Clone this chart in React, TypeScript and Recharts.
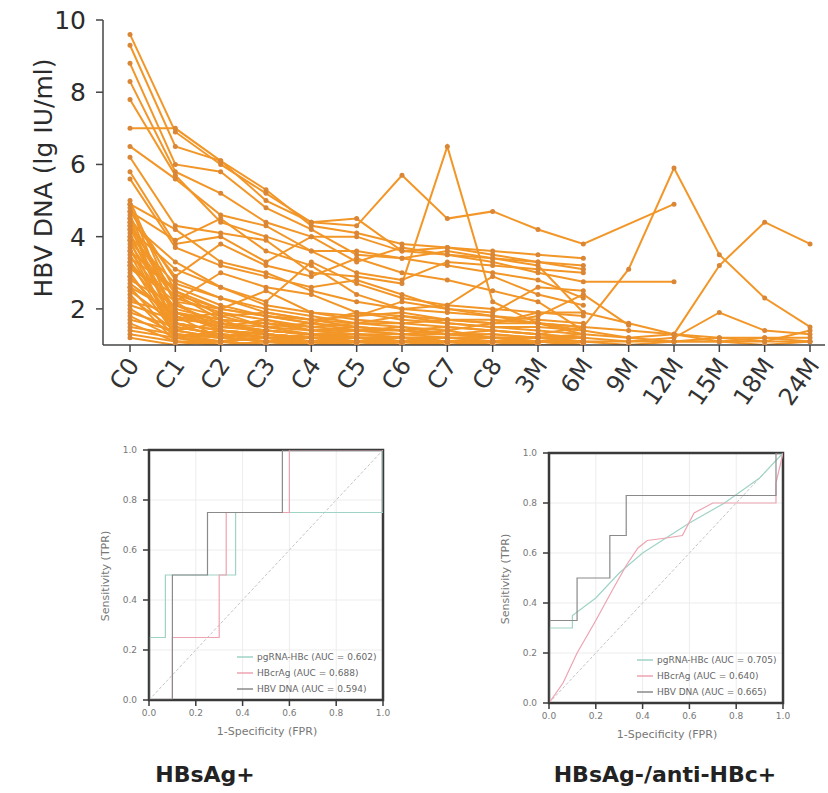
import { LineChart, Line, XAxis, YAxis, CartesianGrid, ReferenceLine, ReferenceArea, Legend, Label } from 'recharts'

const _ = null

// HBV DNA (lg IU/ml) per patient, one value per timepoint
const timepoints = ['C0', 'C1', 'C2', 'C3', 'C4', 'C5', 'C6', 'C7', 'C8', '3M', '6M', '9M', '12M', '15M', '18M', '24M']

const highResponders: (number | null)[][] = [
  [9.6, 6.9, 6.0, 5.2, 4.4, 4.5, 3.6, 3.5, 3.4, 3.3, 3.1],
  [9.3, 6.5, 6.1, 5.3, 4.3, 4.1, 3.8, 3.7, 3.6, 3.5, 3.4],
  [8.8, 6.0, 5.8, 4.8, 4.2, 3.5, 3.4, 3.6, 3.4, 3.2, 1.9],
  [8.3, 5.8, 5.2, 4.4, 4.0, 3.3, 3.7, 3.5, 3.3, 3.0, 2.75, _, 2.75],
  [7.8, 5.7, 4.4, 4.0, 3.6, 3.0, 2.8, 3.3, 3.2, 3.1, 3.0],
  [7.0, 7.0, 6.1, 5.0, 4.4, 4.3, 5.7, 4.5, 4.7, 4.2, 3.8, _, 4.9],
  [6.5, 5.6, 4.6, 4.3, 3.6, 3.6, 3.4, 3.2, 3.0, 2.8, 2.3],
  [6.2, 4.3, 4.1, 3.9, 3.0, 2.9, 2.7, 6.5, 2.2, 1.6, 1.3],
  [5.8, 3.8, 4.0, 3.3, 4.0, 4.0, 3.6, 3.7, 3.5, 3.3, 3.2],
  [5.6, 3.7, 3.2, 2.9, 2.6, 2.8, 2.4, 2.0, 1.8, 1.6, 1.5, 1.4, 1.3, 1.2, 1.2, 1.1],
]

const midResponders: (number | null)[][] = [
  [4.9, 4.2, 3.3, 3.0, 2.5, 2.2, 2.0, 1.9, 1.8, 1.7, 1.6],
  [4.7, 3.9, 4.5, 3.6, 3.2, 2.4, 2.0, 2.1, 2.0, 1.9, 1.8],
  [4.5, 2.9, 3.8, 3.2, 2.9, 3.4, 3.0, 2.8, 2.5, 2.2, 1.4],
  [4.4, 3.3, 2.6, 2.2, 3.3, 2.7, 2.3, 2.1, 2.9, 2.4, 2.1],
  [4.3, 2.4, 2.0, 2.5, 1.9, 1.8, 2.2, 2.0, 1.9, 2.6, 2.5],
  [4.2, 2.2, 3.0, 2.6, 2.4, 1.9, 1.8, 1.7, 1.7, 1.6, 1.5],
  [4.0, 2.7, 2.3, 2.0, 1.8, 1.6, 1.6, 1.7, 1.6, 1.8, 2.4, 1.55],
  [4.8, 2.5, 2.0, 1.8, 1.6, 1.5, 1.4, 1.5, 1.4, 1.3, 1.5, 3.1, 5.9, 3.5, 2.3, 1.5],
  [3.9, 2.3, 1.9, 1.7, 1.5, 1.4, 1.4, 1.3, 1.3, 1.2, 1.3, 1.2, 1.3, 3.2, 4.4, 3.8],
  [3.6, 1.9, 1.6, 1.5, 1.4, 1.4, 1.3, 1.3, 1.2, 1.2, 1.2, 1.1, 1.2, 1.9, 1.4, 1.3],
  [3.3, 1.8, 1.5, 1.4, 1.3, 1.3, 1.2, 1.2, 1.2, 1.1, 1.1, 1.1, 1.1, 1.1, 1.1, 1.1],
  [2.9, 1.6, 1.4, 1.3, 1.2, 1.2, 1.2, 1.1, 1.1, 1.1, 1.1, 1.0, 1.1, 1.1, 1.2, 1.2],
  [2.6, 1.9, 1.7, 1.6, 1.5, 1.6, 1.5, 1.4, 1.6, 1.6, 1.4, 1.2, 1.1, 1.2, 1.1, 1.4],
  [3.2, 2.2, 2.0, 1.8, 1.7, 1.8, 1.9, 1.7, 1.6, 1.9, 1.9, 1.6, 1.3, 1.1, 1.0, 1.1],
]

const lowResponders: (number | null)[][] = [
  [5.0, 2.1, 1.6, 1.4, 1.3, 1.2, 1.2, 1.1, 1.1, 1.1, 1.0],
  [4.9, 1.6, 1.2, 1.1, 1.0, 1.1, 1.0, 1.0, 1.0],
  [4.7, 2.8, 2.3, 1.9, 1.7, 1.5, 1.4, 1.3, 1.2, 1.2, 1.1],
  [4.6, 1.8, 1.5, 1.4, 1.3, 1.3, 1.2, 1.2, 1.2, 1.2, 1.1],
  [4.5, 1.3, 1.1, 1.0, 1.0, 1.0, 1.0],
  [4.4, 2.2, 1.4, 1.2, 1.1, 1.0, 1.0],
  [4.3, 1.5, 1.3, 1.2, 1.2, 1.1, 1.1, 1.1, 1.0, 1.0],
  [4.2, 3.1, 2.6, 2.1, 1.9, 1.7, 1.6, 1.5, 1.4, 1.3, 1.2],
  [4.1, 1.5, 1.3, 1.2, 1.2, 1.1, 1.1, 1.1, 1.1, 1.0, 1.0],
  [4.0, 1.9, 1.4, 1.3, 1.2, 1.2, 1.1, 1.1],
  [3.9, 1.2, 1.1, 1.0, 1.0, 1.0],
  [3.8, 2.0, 1.7, 1.6, 1.4, 1.5, 1.4, 1.3, 1.3, 1.2, 1.2],
  [3.7, 1.2, 1.0, 1.0, 1.0, 1.1, 1.0, 1.0],
  [3.6, 2.5, 1.8, 1.5, 1.3, 1.2, 1.2, 1.1, 1.1, 1.0, 1.0],
  [3.5, 1.4, 1.2, 1.3, 1.1, 1.2, 1.1, 1.1, 1.2, 1.1, 1.1],
  [3.4, 2.6, 2.1, 1.8, 1.6, 1.9, 1.7, 1.6, 1.5, 1.5, 1.4],
  [3.3, 1.3, 1.2, 1.1, 1.0],
  [3.2, 1.7, 1.9, 1.5, 1.6, 1.4, 1.5, 1.3, 1.4, 1.3, 1.2],
  [3.1, 2.4, 1.7, 1.3, 1.2, 1.1, 1.2, 1.1],
  [3.0, 1.3, 1.2, 1.1, 1.1, 1.1, 1.0, 1.1, 1.0, 1.0, 1.0],
  [2.9, 1.6, 1.4, 1.3, 1.2, 1.2, 1.2, 1.1, 1.1, 1.1, 1.1],
  [2.8, 2.1, 1.8, 1.9, 1.7, 1.6, 1.8, 1.6, 1.5, 1.4, 1.3],
  [2.7, 1.8, 1.2, 1.4, 1.3, 1.2, 1.1, 1.1],
  [2.6, 1.2, 1.1, 1.2, 1.1, 1.0, 1.1, 1.0, 1.1, 1.0, 1.0],
  [2.5, 1.6, 1.4, 1.2, 1.3, 1.2, 1.2, 1.2, 1.1, 1.1, 1.1],
  [2.4, 1.1, 1.0, 1.0, 1.0, 1.0, 1.0, 1.0, 1.0, 1.0, 1.0],
  [2.3, 1.4, 1.6, 1.3, 1.2, 1.3, 1.2, 1.1, 1.1, 1.2, 1.1],
  [2.2, 1.9, 1.5, 1.7, 1.4, 1.3, 1.3, 1.4, 1.2, 1.2, 1.2],
  [2.1, 1.7, 1.6, 1.4, 1.3, 1.4, 1.3, 1.2],
  [2.0, 1.3, 1.2, 1.1, 1.2, 1.1, 1.1, 1.1, 1.0, 1.1, 1.0],
  [1.9, 1.5, 1.3, 1.2, 1.1, 1.1, 1.2, 1.1, 1.1, 1.0, 1.0],
  [1.8, 1.2, 1.4, 1.3, 1.2, 1.1, 1.1, 1.0, 1.1, 1.1, 1.1],
  [1.7, 1.4, 1.2, 1.1, 1.1, 1.2, 1.1, 1.1, 1.1, 1.0, 1.0],
  [1.6, 1.1, 1.1, 1.0, 1.1, 1.0, 1.0, 1.0, 1.0, 1.0, 1.0],
  [1.5, 1.3, 1.1, 1.2, 1.0, 1.1, 1.1, 1.0, 1.0, 1.1, 1.0],
  [1.4, 1.2, 1.3, 1.1, 1.1, 1.0, 1.0, 1.1, 1.0, 1.0, 1.0],
  [1.3, 1.1, 1.0, 1.1, 1.0, 1.0, 1.1, 1.0, 1.0, 1.0, 1.0],
  [1.2, 1.0, 1.1, 1.0, 1.0, 1.1, 1.0, 1.0, 1.0, 1.0, 1.0],
]

const patients = [...lowResponders, ...midResponders, ...highResponders]

// ROC curves, HBsAg+ group
const posRnaFpr = [0, 0, 0.07, 0.07, 0.37, 0.37, 1, 1]
const posRnaTpr = [0, 0.25, 0.25, 0.5, 0.5, 0.75, 0.75, 1]
const posCrAgFpr = [0, 0.1, 0.1, 0.3, 0.3, 0.33, 0.33, 0.6, 0.6, 1]
const posCrAgTpr = [0, 0, 0.25, 0.25, 0.5, 0.5, 0.75, 0.75, 1, 1]
const posDnaFpr = [0, 0.1, 0.1, 0.25, 0.25, 0.57, 0.57, 1]
const posDnaTpr = [0, 0, 0.5, 0.5, 0.75, 0.75, 1, 1]

// ROC curves, HBsAg-/anti-HBc+ group
const negRnaFpr = [0, 0, 0.1, 0.1, 0.2, 0.3, 0.4, 0.5, 0.6, 0.75, 0.9, 1]
const negRnaTpr = [0, 0.3, 0.3, 0.35, 0.42, 0.52, 0.6, 0.66, 0.72, 0.8, 0.9, 1]
const negCrAgFpr = [0, 0.06, 0.12, 0.2, 0.27, 0.33, 0.38, 0.42, 0.5, 0.57, 0.62, 0.7, 0.97, 0.97, 1]
const negCrAgTpr = [0, 0.08, 0.2, 0.33, 0.45, 0.55, 0.62, 0.65, 0.66, 0.67, 0.76, 0.8, 0.8, 0.88, 1]
const negDnaFpr = [0, 0, 0.12, 0.12, 0.26, 0.26, 0.33, 0.33, 0.97, 0.97, 1]
const negDnaTpr = [0, 0.33, 0.33, 0.5, 0.5, 0.67, 0.67, 0.83, 0.83, 1, 1]

const posLegend = ['pgRNA-HBc (AUC = 0.602)', 'HBcrAg (AUC = 0.688)', 'HBV DNA (AUC = 0.594)']
const negLegend = ['pgRNA-HBc (AUC = 0.705)', 'HBcrAg (AUC = 0.640)', 'HBV DNA (AUC = 0.665)']

const rocTicks = [0, 0.2, 0.4, 0.6, 0.8, 1]

const ORANGE = '#F29628'
const DOT = '#D98636'
const RNA_COLOR = '#9fd3c6'
const CRAG_COLOR = '#eea3b1'
const DNA_COLOR = '#8a8a8a'

const rows = timepoints.map((tp, i) => {
  const row: Record<string, string | number | null> = { tp }
  patients.forEach((p, k) => {
    row[`p${k}`] = p[i] ?? null
  })
  return row
})

function CycleTick(props: any) {
  const { x, y, payload } = props
  const ox = x + 3
  const oy = y + 6
  return (
    <text x={ox} y={oy} dy={9} textAnchor="end" transform={`rotate(-55 ${ox} ${oy})`}
      fontSize={24} fontFamily="DejaVu Sans" fill="#333">
      {payload.value}
    </text>
  )
}

function DnaChart() {
  const axisStyle = { stroke: '#444', strokeWidth: 1.5 }
  return (
    <LineChart width={828} height={420} data={rows} margin={{ top: 20, right: 3, bottom: 5, left: 8 }}>
      <XAxis dataKey="tp" type="category" interval={0} padding={{ left: 27, right: 15 }} height={70}
        tick={<CycleTick />} tickSize={7} axisLine={axisStyle} tickLine={axisStyle} />
      <YAxis type="number" domain={[1, 10]} ticks={[2, 4, 6, 8, 10]} allowDataOverflow width={95}
        tickSize={7} tickMargin={10} axisLine={axisStyle} tickLine={axisStyle}
        tick={{ fontSize: 25, fill: '#2b2b2b', fontFamily: 'DejaVu Sans' }}>
        <Label content={() => (
          <text x={52} y={178} textAnchor="middle" transform="rotate(-90 52 178)"
            fontSize={25} fontFamily="DejaVu Sans" fill="#2b2b2b">
            HBV DNA (lg IU/ml)
          </text>
        )} />
      </YAxis>
      {patients.map((p, k) => (
        <Line key={k} dataKey={`p${k}`} stroke={ORANGE} strokeWidth={2}
          dot={{ r: 2.5, fill: DOT, stroke: 'none' }} connectNulls isAnimationActive={false} />
      ))}
    </LineChart>
  )
}

interface RocCurve {
  name: string
  color: string
  fpr: number[]
  tpr: number[]
}

function RocPanel({ curves, left, top }: { curves: RocCurve[]; left: number; top: number }) {
  const frame = { stroke: '#3a3a3a', strokeWidth: 1.5 }
  const tickText = { fontSize: 9, fill: '#777', fontFamily: 'DejaVu Sans' }
  return (
    <div style={{ position: 'absolute', left, top }}>
      <LineChart width={300} height={312} margin={{ top: 20, right: 12, bottom: 12, left: 14 }}>
        <CartesianGrid stroke="#ededed" />
        <XAxis dataKey="fpr" type="number" domain={[0, 1]} ticks={rocTicks} allowDataOverflow height={30}
          tickFormatter={(v: number) => v.toFixed(1)} tick={tickText} tickSize={6} tickMargin={4}
          axisLine={frame} tickLine={frame}>
          <Label content={() => (
            <text x={172} y={305} textAnchor="middle" fontSize={11} fontFamily="DejaVu Sans" fill="#777">
              1-Specificity (FPR)
            </text>
          )} />
        </XAxis>
        <YAxis type="number" domain={[0, 1]} ticks={rocTicks} allowDataOverflow width={40}
          tickFormatter={(v: number) => v.toFixed(1)} tick={tickText} tickSize={6} tickMargin={6}
          axisLine={frame} tickLine={frame}>
          <Label content={() => (
            <text x={14} y={146} textAnchor="middle" transform="rotate(-90 14 146)"
              fontSize={11} fontFamily="DejaVu Sans" fill="#777">
              Sensitivity (TPR)
            </text>
          )} />
        </YAxis>
        <ReferenceLine segment={[{ x: 0, y: 0 }, { x: 1, y: 1 }]} stroke="#c4c4c4" strokeDasharray="3 2" />
        {curves.map((c) => (
          <Line key={c.name} name={c.name} data={c.fpr.map((f, i) => ({ fpr: f, tpr: c.tpr[i] }))}
            dataKey="tpr" stroke={c.color} strokeWidth={1.2} dot={false} isAnimationActive={false} />
        ))}
        <ReferenceArea x1={0} x2={1} y1={0} y2={1} fill="none" fillOpacity={0}
          stroke="#3a3a3a" strokeWidth={2.5} />
        <Legend layout="vertical" align="center" verticalAlign="middle"
          wrapperStyle={{ left: 142, top: 219, width: 150, height: 'auto' }}
          content={() => (
            <div style={{ fontFamily: 'DejaVu Sans', fontSize: 9, color: '#666', lineHeight: '16px' }}>
              {curves.map((c) => (
                <div key={c.name} style={{ display: 'flex', alignItems: 'center' }}>
                  <svg width={16} height={8} style={{ marginRight: 4 }}>
                    <line x1={0} y1={4} x2={16} y2={4} stroke={c.color} strokeWidth={1.5} />
                  </svg>
                  <span>{c.name}</span>
                </div>
              ))}
            </div>
          )} />
      </LineChart>
    </div>
  )
}

const posCurves: RocCurve[] = [
  { name: posLegend[0], color: RNA_COLOR, fpr: posRnaFpr, tpr: posRnaTpr },
  { name: posLegend[1], color: CRAG_COLOR, fpr: posCrAgFpr, tpr: posCrAgTpr },
  { name: posLegend[2], color: DNA_COLOR, fpr: posDnaFpr, tpr: posDnaTpr },
]

const negCurves: RocCurve[] = [
  { name: negLegend[0], color: RNA_COLOR, fpr: negRnaFpr, tpr: negRnaTpr },
  { name: negLegend[1], color: CRAG_COLOR, fpr: negCrAgFpr, tpr: negCrAgTpr },
  { name: negLegend[2], color: DNA_COLOR, fpr: negDnaFpr, tpr: negDnaTpr },
]

const titleStyle = {
  position: 'absolute' as const,
  top: 762,
  width: 300,
  textAlign: 'center' as const,
  fontFamily: 'DejaVu Sans',
  fontWeight: 'bold' as const,
  fontSize: 22,
  color: '#222',
}

export default function App() {
  return (
    <div style={{ position: 'absolute', left: 0, top: 0, width: 828, height: 793, background: '#fff' }}>
      <div style={{ position: 'absolute', left: 0, top: 0 }}>
        <DnaChart />
      </div>
      <RocPanel curves={posCurves} left={95} top={430} />
      <RocPanel curves={negCurves} left={495} top={433} />
      <div style={{ ...titleStyle, left: 55 }}>HBsAg+</div>
      <div style={{ ...titleStyle, left: 515 }}>HBsAg-/anti-HBc+</div>
    </div>
  )
}
